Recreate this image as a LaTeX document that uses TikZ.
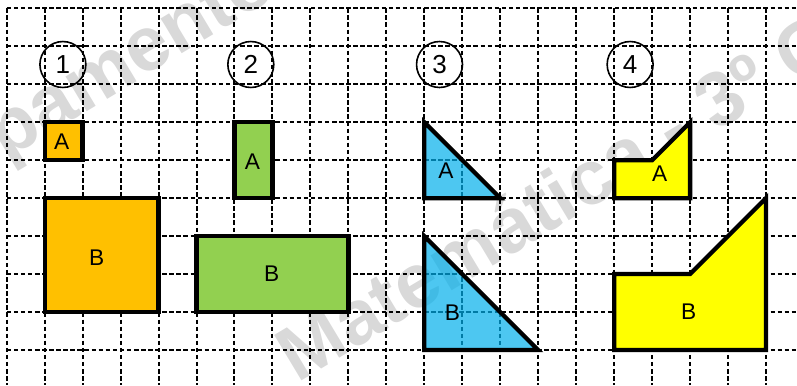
\documentclass[tikz,border=0pt]{standalone}
\usepackage{fontspec}
\setmainfont{Liberation Sans}

\definecolor{areaorange}{HTML}{FFC000}
\definecolor{areagreen}{HTML}{92D050}
\definecolor{areablue}{RGB}{1,175,235}
\definecolor{areayellow}{HTML}{FFFF00}
\definecolor{markgray}{RGB}{217,217,217}

\tikzset{
  gridline/.style={line width=1.5pt, dash pattern=on 3.4pt off 1.9pt},
  piece/.style={line width=3.2pt},
  tag/.style={inner sep=0pt, font=\fontsize{17}{17}\selectfont},
  numcircle/.style={circle, draw, line width=1.2pt, minimum size=1.21cm,
    inner sep=0pt, font=\fontsize{19.5}{19.5}\selectfont},
  watermark/.style={anchor=base west, rotate=31, inner sep=0pt,
    text=markgray, font=\fontsize{57.7}{58}\selectfont\bfseries}
}

\begin{document}
\begin{tikzpicture}

        \useasboundingbox (-0.176,-0.922) rectangle (20.815,9.219);

        % watermark
        \begin{scope}
          \clip (-0.176,-0.922) rectangle (20.815,9.219);
          \node[watermark] (wm1) at (-4.10,2.555) {Agrupamento};
          \node[watermark] (wm2) at (7.645,-0.895) {Matemática - 3º Ciclo};
        \end{scope}

        % grid
        \foreach \x in {0,...,20}
          \draw[gridline] (\x,9) -- (\x,-0.922);
        \foreach \y in {0,...,9}
          \draw[gridline] (0,\y) -- (20.815,\y);

        % pair 1
        \draw[piece, fill=areaorange] (1,5) rectangle (2,6);
        \draw[piece, fill=areaorange] (1,1) rectangle (4,4);

        % pair 2
        \draw[piece, fill=areagreen] (6,4) rectangle (7,6);
        \draw[piece, fill=areagreen] (5,1) rectangle (9,3);

        % pair 3
        \draw[piece, fill=areablue, fill opacity=0.7] (11,6) -- (11,4) -- (13,4) -- cycle;
        \draw[piece, fill=areablue, fill opacity=0.7] (11,3) -- (11,0) -- (14,0) -- cycle;

        % pair 4
        \draw[piece, fill=areayellow] (16,4) -- (16,5) -- (17,5) -- (18,6) -- (18,4) -- cycle;
        \draw[piece, fill=areayellow] (16,0) -- (16,2) -- (18,2) -- (20,4) -- (20,0) -- cycle;

        \begin{scope}[every node/.style={numcircle}]
          \node (n1) at (1.48,7.52) {1};
          \node (n2) at (6.43,7.52) {2};
          \node (n3) at (11.40,7.52) {3};
          \node (n4) at (16.42,7.52) {4};
        \end{scope}

        \begin{scope}[every node/.style={tag}]
          \node (a1) at (1.45,5.5) {A};
          \node (b1) at (2.37,2.44) {B};
          \node (a2) at (6.47,4.96) {A};
          \node (b2) at (6.98,2.02) {B};
          \node (a3) at (11.57,4.72) {A};
          \node (b3) at (11.74,0.98) {B};
          \node (a4) at (17.2,4.64) {A};
          \node (b4) at (17.96,1.0) {B};
        \end{scope}

      \end{tikzpicture}
\end{document}
